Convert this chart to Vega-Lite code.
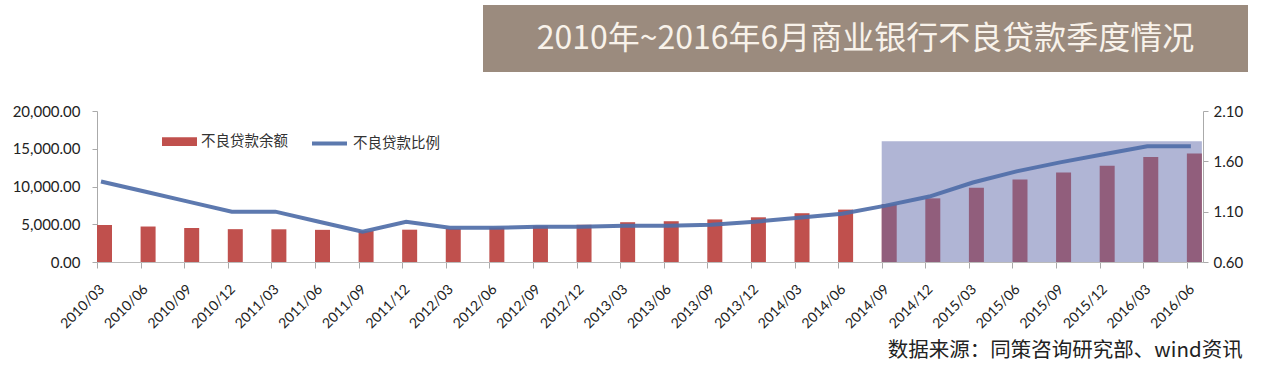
{
  "$schema": "https://vega.github.io/schema/vega-lite/v6.json",
  "background": "white",
  "padding": {"left": 12, "top": 5, "right": 5, "bottom": 4},
  "config": {"view": {"stroke": null}, "font": "Lato"},
  "datasets": {
    "npl": [
      {"q": "2010/03", "npl": 4900, "ratio": 1.40},
      {"q": "2010/06", "npl": 4700, "ratio": 1.30},
      {"q": "2010/09", "npl": 4500, "ratio": 1.20},
      {"q": "2010/12", "npl": 4350, "ratio": 1.10},
      {"q": "2011/03", "npl": 4330, "ratio": 1.10},
      {"q": "2011/06", "npl": 4260, "ratio": 1.00},
      {"q": "2011/09", "npl": 4100, "ratio": 0.90},
      {"q": "2011/12", "npl": 4280, "ratio": 1.00},
      {"q": "2012/03", "npl": 4380, "ratio": 0.94},
      {"q": "2012/06", "npl": 4560, "ratio": 0.94},
      {"q": "2012/09", "npl": 4790, "ratio": 0.95},
      {"q": "2012/12", "npl": 4930, "ratio": 0.95},
      {"q": "2013/03", "npl": 5270, "ratio": 0.96},
      {"q": "2013/06", "npl": 5400, "ratio": 0.96},
      {"q": "2013/09", "npl": 5640, "ratio": 0.97},
      {"q": "2013/12", "npl": 5920, "ratio": 1.00},
      {"q": "2014/03", "npl": 6460, "ratio": 1.04},
      {"q": "2014/06", "npl": 6940, "ratio": 1.08},
      {"q": "2014/09", "npl": 7670, "ratio": 1.16},
      {"q": "2014/12", "npl": 8430, "ratio": 1.25},
      {"q": "2015/03", "npl": 9830, "ratio": 1.39},
      {"q": "2015/06", "npl": 10920, "ratio": 1.50},
      {"q": "2015/09", "npl": 11860, "ratio": 1.59},
      {"q": "2015/12", "npl": 12740, "ratio": 1.67},
      {"q": "2016/03", "npl": 13920, "ratio": 1.75},
      {"q": "2016/06", "npl": 14370, "ratio": 1.75}
    ],
    "titleText": [{"t": "2010年~2016年6月商业银行不良贷款季度情况"}],
    "blank": [{"t": ""}],
    "one": [{"k": 1}]
  },
  "spacing": 32,
  "vconcat": [
    {
      "spacing": 0,
      "hconcat": [
        {
          "width": 386,
          "height": 67,
          "data": {"name": "blank"},
          "mark": {"type": "text"},
          "encoding": {"text": {"field": "t"}}
        },
        {
          "width": 765,
          "height": 67,
          "view": {"fill": "#9b8b7e", "stroke": null},
          "data": {"name": "titleText"},
          "mark": {"type": "text", "font": "Noto Sans CJK SC", "fontSize": 32, "color": "#f8f2ea", "align": "center", "baseline": "middle"},
          "encoding": {"text": {"field": "t"}}
        }
      ]
    },
    {
      "width": 1106,
      "height": 151,
      "title": {
        "text": "数据来源：同策咨询研究部、wind资讯",
        "orient": "bottom",
        "anchor": "end",
        "font": "Noto Sans CJK SC",
        "fontSize": 20.5,
        "fontWeight": "normal",
        "color": "#222222",
        "offset": 10
      },
      "layer": [
        {
          "layer": [
            {
              "data": {"name": "npl"},
              "mark": {"type": "bar", "width": 15, "xOffset": 7.5},
              "encoding": {
                "x": {
                  "field": "q",
                  "type": "ordinal",
                  "sort": null,
                  "scale": {"type": "point", "padding": 0.185, "align": 0},
                  "axis": {
                    "title": null,
                    "domain": true,
                    "domainColor": "#bbbbbb",
                    "ticks": true,
                    "tickColor": "#aaaaaa",
                    "tickSize": 6,
                    "labelAngle": -45,
                    "labelFont": "Lato",
                    "labelFontSize": 14,
                    "labelColor": "#222222",
                    "labelPadding": 14,
                    "labelOverlap": false
                  }
                },
                "y": {
                  "field": "npl",
                  "type": "quantitative",
                  "scale": {"domain": [0, 20000], "nice": false},
                  "axis": {
                    "title": null,
                    "values": [0, 5000, 10000, 15000, 20000],
                    "format": ",.2f",
                    "grid": false,
                    "labelOverlap": false,
                    "domainColor": "#aaaaaa",
                    "tickColor": "#aaaaaa",
                    "tickSize": 5,
                    "labelFont": "Lato",
                    "labelFontSize": 15,
                    "labelColor": "#222222",
                    "labelPadding": 12,
                    "minExtent": 85,
                    "maxExtent": 85
                  }
                },
                "color": {
                  "datum": "不良贷款余额",
                  "type": "nominal",
                  "scale": {"range": ["#c0504d"]},
                  "legend": {
                    "title": null,
                    "orient": "none",
                    "legendX": 65,
                    "legendY": 119,
                    "symbolType": "M-1,-0.25H1V0.25H-1Z",
                    "symbolSize": 1225,
                    "symbolStrokeWidth": 0,
                    "symbolOpacity": 1,
                    "labelFont": "Noto Sans CJK SC",
                    "labelFontSize": 14.5,
                    "labelColor": "#333333",
                    "labelOffset": 4
                  }
                }
              }
            },
            {
              "data": {"name": "one"},
              "mark": {"type": "rect", "fill": "#616bab", "fillOpacity": 0.5, "x2Offset": 15},
              "encoding": {
                "x": {"datum": "2014/09", "type": "ordinal"},
                "x2": {"datum": "2016/06"},
                "y": {
                  "datum": 0,
                  "type": "quantitative",
                  "axis": {
                    "title": null,
                    "values": [0, 5000, 10000, 15000, 20000],
                    "format": ",.2f",
                    "grid": false,
                    "labelOverlap": false,
                    "domainColor": "#aaaaaa",
                    "tickColor": "#aaaaaa",
                    "tickSize": 5,
                    "labelFont": "Lato",
                    "labelFontSize": 15,
                    "labelColor": "#222222",
                    "labelPadding": 12,
                    "minExtent": 85,
                    "maxExtent": 85
                  }
                },
                "y2": {"datum": 16000}
              }
            }
          ]
        },
        {
          "data": {"name": "npl"},
          "mark": {"type": "line", "strokeWidth": 4, "xOffset": 4, "opacity": 0.92},
          "encoding": {
            "x": {"field": "q", "type": "ordinal", "sort": null},
            "y": {
              "field": "ratio",
              "type": "quantitative",
              "scale": {"domain": [0.6, 2.1], "nice": false, "zero": false},
              "axis": {
                "orient": "right",
                "title": null,
                "values": [0.6, 1.1, 1.6, 2.1],
                "format": ".2f",
                "grid": false,
                "labelOverlap": false,
                "domainColor": "#aaaaaa",
                "tickColor": "#aaaaaa",
                "tickSize": 5,
                "labelFont": "Lato",
                "labelFontSize": 15,
                "labelColor": "#222222",
                "labelPadding": 5
              }
            },
            "stroke": {
              "datum": "不良贷款比例",
              "type": "nominal",
              "scale": {"range": ["#4f6ea8"]},
              "legend": {
                "title": null,
                "orient": "none",
                "legendX": 213,
                "legendY": 119,
                "symbolType": "stroke",
                "symbolSize": 1225,
                "symbolStrokeWidth": 4,
                "labelFont": "Noto Sans CJK SC",
                "labelFontSize": 14.5,
                "labelColor": "#333333",
                "labelOffset": 4
              }
            }
          }
        }
      ],
      "resolve": {"scale": {"y": "independent"}}
    }
  ]
}
